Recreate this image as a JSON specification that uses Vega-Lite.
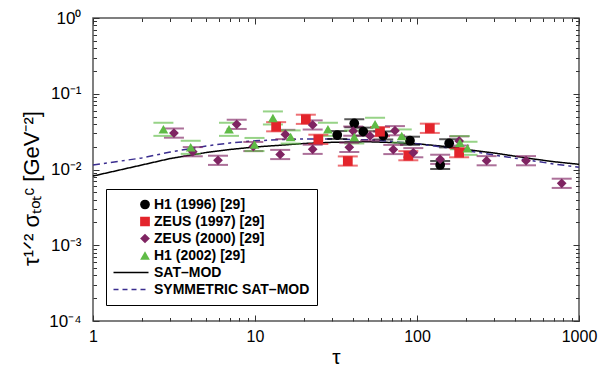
{
  "$schema": "https://vega.github.io/schema/vega-lite/v6.json",
  "width": 486,
  "height": 303,
  "autosize": {"type": "none"},
  "padding": {"left": 93, "top": 18, "right": 34, "bottom": 46},
  "background": "white",
  "config": {
    "view": {"stroke": "#555555", "strokeWidth": 1.5},
    "font": "Liberation Sans",
    "axis": {"grid": false, "domain": false, "tickColor": "#333333", "tickWidth": 1, "labelColor": "black", "titleColor": "black", "labelFont": "Liberation Sans", "titleFont": "Liberation Sans", "titleFontWeight": "normal"}
  },
  "datasets": {
    "pts": [
      {"s": "H1 (1996) [29]", "tau": 32.2, "y": 0.0285, "lo": 0.0253, "hi": 0.0322},
      {"s": "H1 (1996) [29]", "tau": 41.0, "y": 0.0407, "lo": 0.0360, "hi": 0.0460},
      {"s": "H1 (1996) [29]", "tau": 46.6, "y": 0.0316, "lo": 0.0280, "hi": 0.0357},
      {"s": "H1 (1996) [29]", "tau": 61.9, "y": 0.0281, "lo": 0.0249, "hi": 0.0318},
      {"s": "H1 (1996) [29]", "tau": 90.5, "y": 0.0240, "lo": 0.0212, "hi": 0.0271},
      {"s": "H1 (1996) [29]", "tau": 158, "y": 0.0222, "lo": 0.0196, "hi": 0.0251},
      {"s": "H1 (1996) [29]", "tau": 139, "y": 0.01147, "lo": 0.01015, "hi": 0.01296},
      {"s": "ZEUS (1997) [29]", "tau": 13.5, "y": 0.0367, "lo": 0.0319, "hi": 0.0422},
      {"s": "ZEUS (1997) [29]", "tau": 20.6, "y": 0.0460, "lo": 0.0400, "hi": 0.0529},
      {"s": "ZEUS (1997) [29]", "tau": 24.6, "y": 0.0250, "lo": 0.0217, "hi": 0.0288},
      {"s": "ZEUS (1997) [29]", "tau": 37.4, "y": 0.01294, "lo": 0.01125, "hi": 0.01488},
      {"s": "ZEUS (1997) [29]", "tau": 59.1, "y": 0.0316, "lo": 0.0275, "hi": 0.0363},
      {"s": "ZEUS (1997) [29]", "tau": 88.4, "y": 0.01521, "lo": 0.01323, "hi": 0.01749},
      {"s": "ZEUS (1997) [29]", "tau": 120, "y": 0.0350, "lo": 0.0304, "hi": 0.0403},
      {"s": "ZEUS (1997) [29]", "tau": 182, "y": 0.01667, "lo": 0.01450, "hi": 0.01917},
      {"s": "ZEUS (2000) [29]", "tau": 3.16, "y": 0.0303, "lo": 0.0263, "hi": 0.0348},
      {"s": "ZEUS (2000) [29]", "tau": 4.13, "y": 0.01718, "lo": 0.01494, "hi": 0.01976},
      {"s": "ZEUS (2000) [29]", "tau": 5.91, "y": 0.01322, "lo": 0.01150, "hi": 0.01520},
      {"s": "ZEUS (2000) [29]", "tau": 7.71, "y": 0.0395, "lo": 0.0343, "hi": 0.0454},
      {"s": "ZEUS (2000) [29]", "tau": 9.76, "y": 0.0201, "lo": 0.0175, "hi": 0.0231},
      {"s": "ZEUS (2000) [29]", "tau": 14.3, "y": 0.01578, "lo": 0.01372, "hi": 0.01815},
      {"s": "ZEUS (2000) [29]", "tau": 15.4, "y": 0.0290, "lo": 0.0252, "hi": 0.0334},
      {"s": "ZEUS (2000) [29]", "tau": 22.7, "y": 0.0387, "lo": 0.0337, "hi": 0.0445},
      {"s": "ZEUS (2000) [29]", "tau": 22.7, "y": 0.01848, "lo": 0.01607, "hi": 0.02125},
      {"s": "ZEUS (2000) [29]", "tau": 38.2, "y": 0.01963, "lo": 0.01707, "hi": 0.02257},
      {"s": "ZEUS (2000) [29]", "tau": 40.4, "y": 0.0322, "lo": 0.0280, "hi": 0.0370},
      {"s": "ZEUS (2000) [29]", "tau": 51.3, "y": 0.0277, "lo": 0.0241, "hi": 0.0319},
      {"s": "ZEUS (2000) [29]", "tau": 73.1, "y": 0.0325, "lo": 0.0283, "hi": 0.0374},
      {"s": "ZEUS (2000) [29]", "tau": 71.4, "y": 0.01836, "lo": 0.01597, "hi": 0.02111},
      {"s": "ZEUS (2000) [29]", "tau": 94.9, "y": 0.01667, "lo": 0.01450, "hi": 0.01917},
      {"s": "ZEUS (2000) [29]", "tau": 182, "y": 0.0238, "lo": 0.0207, "hi": 0.0274},
      {"s": "ZEUS (2000) [29]", "tau": 139, "y": 0.01363, "lo": 0.01185, "hi": 0.01567},
      {"s": "ZEUS (2000) [29]", "tau": 269, "y": 0.01306, "lo": 0.01136, "hi": 0.01502},
      {"s": "ZEUS (2000) [29]", "tau": 471, "y": 0.01306, "lo": 0.01136, "hi": 0.01502},
      {"s": "ZEUS (2000) [29]", "tau": 782, "y": 0.00657, "lo": 0.00571, "hi": 0.00756},
      {"s": "H1 (2002) [29]", "tau": 2.72, "y": 0.0339, "lo": 0.0278, "hi": 0.0414},
      {"s": "H1 (2002) [29]", "tau": 4.01, "y": 0.01963, "lo": 0.01609, "hi": 0.02395},
      {"s": "H1 (2002) [29]", "tau": 6.91, "y": 0.0339, "lo": 0.0278, "hi": 0.0414},
      {"s": "H1 (2002) [29]", "tau": 9.93, "y": 0.0214, "lo": 0.0175, "hi": 0.0261},
      {"s": "H1 (2002) [29]", "tau": 12.9, "y": 0.0479, "lo": 0.0393, "hi": 0.0584},
      {"s": "H1 (2002) [29]", "tau": 16.6, "y": 0.0269, "lo": 0.0220, "hi": 0.0328},
      {"s": "H1 (2002) [29]", "tau": 28.2, "y": 0.0339, "lo": 0.0278, "hi": 0.0414},
      {"s": "H1 (2002) [29]", "tau": 41.0, "y": 0.0269, "lo": 0.0220, "hi": 0.0328},
      {"s": "H1 (2002) [29]", "tau": 55.1, "y": 0.0395, "lo": 0.0324, "hi": 0.0482},
      {"s": "H1 (2002) [29]", "tau": 80.5, "y": 0.0277, "lo": 0.0227, "hi": 0.0338},
      {"s": "H1 (2002) [29]", "tau": 184, "y": 0.0226, "lo": 0.0185, "hi": 0.0276},
      {"s": "H1 (2002) [29]", "tau": 205, "y": 0.01905, "lo": 0.01561, "hi": 0.02324}
    ],
    "curves": [
      {"s": "SAT–MOD", "tau": 1, "y": 0.00820},
      {"s": "SAT–MOD", "tau": 2, "y": 0.01146},
      {"s": "SAT–MOD", "tau": 3, "y": 0.01396},
      {"s": "SAT–MOD", "tau": 5, "y": 0.01676},
      {"s": "SAT–MOD", "tau": 7, "y": 0.01837},
      {"s": "SAT–MOD", "tau": 10, "y": 0.01982},
      {"s": "SAT–MOD", "tau": 15, "y": 0.02105},
      {"s": "SAT–MOD", "tau": 20, "y": 0.02204},
      {"s": "SAT–MOD", "tau": 30, "y": 0.02286},
      {"s": "SAT–MOD", "tau": 50, "y": 0.02322},
      {"s": "SAT–MOD", "tau": 70, "y": 0.02271},
      {"s": "SAT–MOD", "tau": 100, "y": 0.02184},
      {"s": "SAT–MOD", "tau": 150, "y": 0.02013},
      {"s": "SAT–MOD", "tau": 200, "y": 0.01837},
      {"s": "SAT–MOD", "tau": 300, "y": 0.01651},
      {"s": "SAT–MOD", "tau": 500, "y": 0.01396},
      {"s": "SAT–MOD", "tau": 700, "y": 0.01267},
      {"s": "SAT–MOD", "tau": 1000, "y": 0.01172},
      {"s": "SYMMETRIC SAT–MOD", "tau": 1, "y": 0.01146},
      {"s": "SYMMETRIC SAT–MOD", "tau": 2, "y": 0.01419},
      {"s": "SYMMETRIC SAT–MOD", "tau": 3, "y": 0.01702},
      {"s": "SYMMETRIC SAT–MOD", "tau": 5, "y": 0.02042},
      {"s": "SYMMETRIC SAT–MOD", "tau": 7, "y": 0.02239},
      {"s": "SYMMETRIC SAT–MOD", "tau": 10, "y": 0.02393},
      {"s": "SYMMETRIC SAT–MOD", "tau": 15, "y": 0.02489},
      {"s": "SYMMETRIC SAT–MOD", "tau": 20, "y": 0.02529},
      {"s": "SYMMETRIC SAT–MOD", "tau": 30, "y": 0.02529},
      {"s": "SYMMETRIC SAT–MOD", "tau": 50, "y": 0.02466},
      {"s": "SYMMETRIC SAT–MOD", "tau": 70, "y": 0.02344},
      {"s": "SYMMETRIC SAT–MOD", "tau": 100, "y": 0.02184},
      {"s": "SYMMETRIC SAT–MOD", "tau": 150, "y": 0.01950},
      {"s": "SYMMETRIC SAT–MOD", "tau": 200, "y": 0.01782},
      {"s": "SYMMETRIC SAT–MOD", "tau": 300, "y": 0.01553},
      {"s": "SYMMETRIC SAT–MOD", "tau": 500, "y": 0.01315},
      {"s": "SYMMETRIC SAT–MOD", "tau": 700, "y": 0.01183},
      {"s": "SYMMETRIC SAT–MOD", "tau": 1000, "y": 0.01069}
    ]
  },
  "layer": [
    {
      "data": {"name": "curves"},
      "mark": {"type": "line", "strokeWidth": 1.5},
      "encoding": {
        "x": {"field": "tau", "type": "quantitative", "scale": {"type": "log", "domain": [1, 1000], "nice": false},
          "axis": {"orient": "bottom", "values": [1, 10, 100, 1000], "tickSize": -6, "labelExpr": "format(datum.value, 'd')", "labelFontSize": 16, "labelPadding": 13, "labelFlush": false, "labelOverlap": false, "title": "τ", "titleFontSize": 21, "titlePadding": 2}},
        "y": {"field": "y", "type": "quantitative", "scale": {"type": "log", "domain": [0.0001, 1], "nice": false},
          "axis": {"orient": "left", "values": [0.0001, 0.001, 0.01, 0.1, 1], "tickSize": -6, "labelExpr": "'10' + (datum.value >= 0.5 ? '⁰' : datum.value >= 0.05 ? '⁻¹' : datum.value >= 0.005 ? '⁻²' : datum.value >= 0.0005 ? '⁻³' : '⁻⁴')", "labelFontSize": 17, "labelPadding": 18, "labelOverlap": false, "title": "τ¹ᐟ² σₜₒₜᶜ [GeV⁻²]", "titleFontSize": 22, "titlePadding": 5, "titleY": 170}},
        "stroke": {"field": "s", "type": "nominal", "legend": null,
          "scale": {"domain": ["SAT–MOD", "SYMMETRIC SAT–MOD"], "range": ["#000000", "#3a2d8f"]}},
        "strokeDash": {"field": "s", "type": "nominal", "scale": {"domain": ["SAT–MOD", "SYMMETRIC SAT–MOD"], "range": [[1, 0], [7, 4, 3, 4]]}, "legend": null}
      }
    },
    {
      "data": {"name": "pts"},
      "mark": {"type": "tick", "orient": "horizontal", "size": 20, "thickness": 2, "opacity": 0.65},
      "encoding": {
        "x": {"field": "tau", "type": "quantitative", "scale": {"type": "log", "domain": [1, 1000], "nice": false},
          "axis": {"orient": "top", "values": [1, 10, 100, 1000], "tickSize": -6, "labels": false, "title": null}},
        "y": {"field": "lo", "type": "quantitative", "scale": {"type": "log", "domain": [0.0001, 1], "nice": false},
          "axis": {"orient": "right", "values": [0.0001, 0.001, 0.01, 0.1, 1], "tickSize": -6, "labels": false, "title": null}},
        "fill": {"field": "s", "type": "nominal", "legend": null,
          "scale": {"domain": ["H1 (1996) [29]", "ZEUS (1997) [29]", "ZEUS (2000) [29]", "H1 (2002) [29]"], "range": ["#000000", "#e3242b", "#7f2462", "#5fbb46"]}}
      }
    },
    {
      "data": {"name": "pts"},
      "mark": {"type": "tick", "orient": "horizontal", "size": 20, "thickness": 2, "opacity": 0.65},
      "encoding": {
        "x": {"field": "tau", "type": "quantitative", "scale": {"type": "log", "domain": [1, 1000], "nice": false},
          "axis": {"orient": "top", "values": [2, 3, 4, 5, 6, 7, 8, 9, 20, 30, 40, 50, 60, 70, 80, 90, 200, 300, 400, 500, 600, 700, 800, 900], "tickSize": -3.5, "labels": false, "title": null}},
        "y": {"field": "hi", "type": "quantitative", "scale": {"type": "log", "domain": [0.0001, 1], "nice": false},
          "axis": {"orient": "right", "values": [0.0002, 0.0003, 0.0004, 0.0005, 0.0006, 0.0007, 0.0008, 0.0009, 0.002, 0.003, 0.004, 0.005, 0.006, 0.007, 0.008, 0.009, 0.02, 0.03, 0.04, 0.05, 0.06, 0.07, 0.08, 0.09, 0.2, 0.3, 0.4, 0.5, 0.6, 0.7, 0.8, 0.9], "tickSize": -3.5, "labels": false, "title": null}},
        "fill": {"field": "s", "type": "nominal", "legend": null}
      }
    },
    {
      "data": {"name": "pts"},
      "mark": {"type": "point", "filled": true, "opacity": 1, "size": 95},
      "encoding": {
        "x": {"field": "tau", "type": "quantitative", "scale": {"type": "log", "domain": [1, 1000], "nice": false},
          "axis": {"orient": "bottom", "values": [2, 3, 4, 5, 6, 7, 8, 9, 20, 30, 40, 50, 60, 70, 80, 90, 200, 300, 400, 500, 600, 700, 800, 900], "tickSize": -3.5, "labels": false, "title": null}},
        "y": {"field": "y", "type": "quantitative", "scale": {"type": "log", "domain": [0.0001, 1], "nice": false},
          "axis": {"orient": "left", "values": [0.0002, 0.0003, 0.0004, 0.0005, 0.0006, 0.0007, 0.0008, 0.0009, 0.002, 0.003, 0.004, 0.005, 0.006, 0.007, 0.008, 0.009, 0.02, 0.03, 0.04, 0.05, 0.06, 0.07, 0.08, 0.09, 0.2, 0.3, 0.4, 0.5, 0.6, 0.7, 0.8, 0.9], "tickSize": -3.5, "labels": false, "title": null}},
        "color": {"field": "s", "type": "nominal",
          "scale": {"domain": ["H1 (1996) [29]", "ZEUS (1997) [29]", "ZEUS (2000) [29]", "H1 (2002) [29]", "SAT–MOD", "SYMMETRIC SAT–MOD"], "range": ["#000000", "#e3242b", "#7f2462", "#5fbb46", "#000000", "#3a2d8f"]},
          "legend": {"title": null, "orient": "none", "legendX": 13, "legendY": 171, "padding": 7, "strokeColor": "#000000", "fillColor": "white", "cornerRadius": 0,
            "labelFont": "Liberation Sans", "labelFontWeight": "bold", "labelFontSize": 14, "labelColor": "black", "labelOffset": 27, "clipHeight": 17, "rowPadding": 0, "labelLimit": 300, "symbolOpacity": 1,
            "encode": {"symbols": {"update": {
              "size": {"signal": "datum.value === 'SAT–MOD' || datum.value === 'SYMMETRIC SAT–MOD' ? 1225 : 95"},
              "x": {"signal": "datum.value === 'SAT–MOD' || datum.value === 'SYMMETRIC SAT–MOD' ? 18 : 32"},
              "stroke": {"signal": "datum.value === 'SAT–MOD' ? '#000000' : datum.value === 'SYMMETRIC SAT–MOD' ? '#3a2d8f' : 'transparent'"},
              "strokeWidth": {"value": 1.5},
              "strokeDash": {"signal": "datum.value === 'SYMMETRIC SAT–MOD' ? [5, 4] : [1, 0]"},
              "opacity": {"value": 1}
            }}}}},
        "shape": {"field": "s", "type": "nominal",
          "scale": {"domain": ["H1 (1996) [29]", "ZEUS (1997) [29]", "ZEUS (2000) [29]", "H1 (2002) [29]", "SAT–MOD", "SYMMETRIC SAT–MOD"], "range": ["circle", "square", "diamond", "triangle-up", "stroke", "stroke"]}}
      }
    }
  ],
  "resolve": {"axis": {"x": "independent", "y": "independent"}}
}
